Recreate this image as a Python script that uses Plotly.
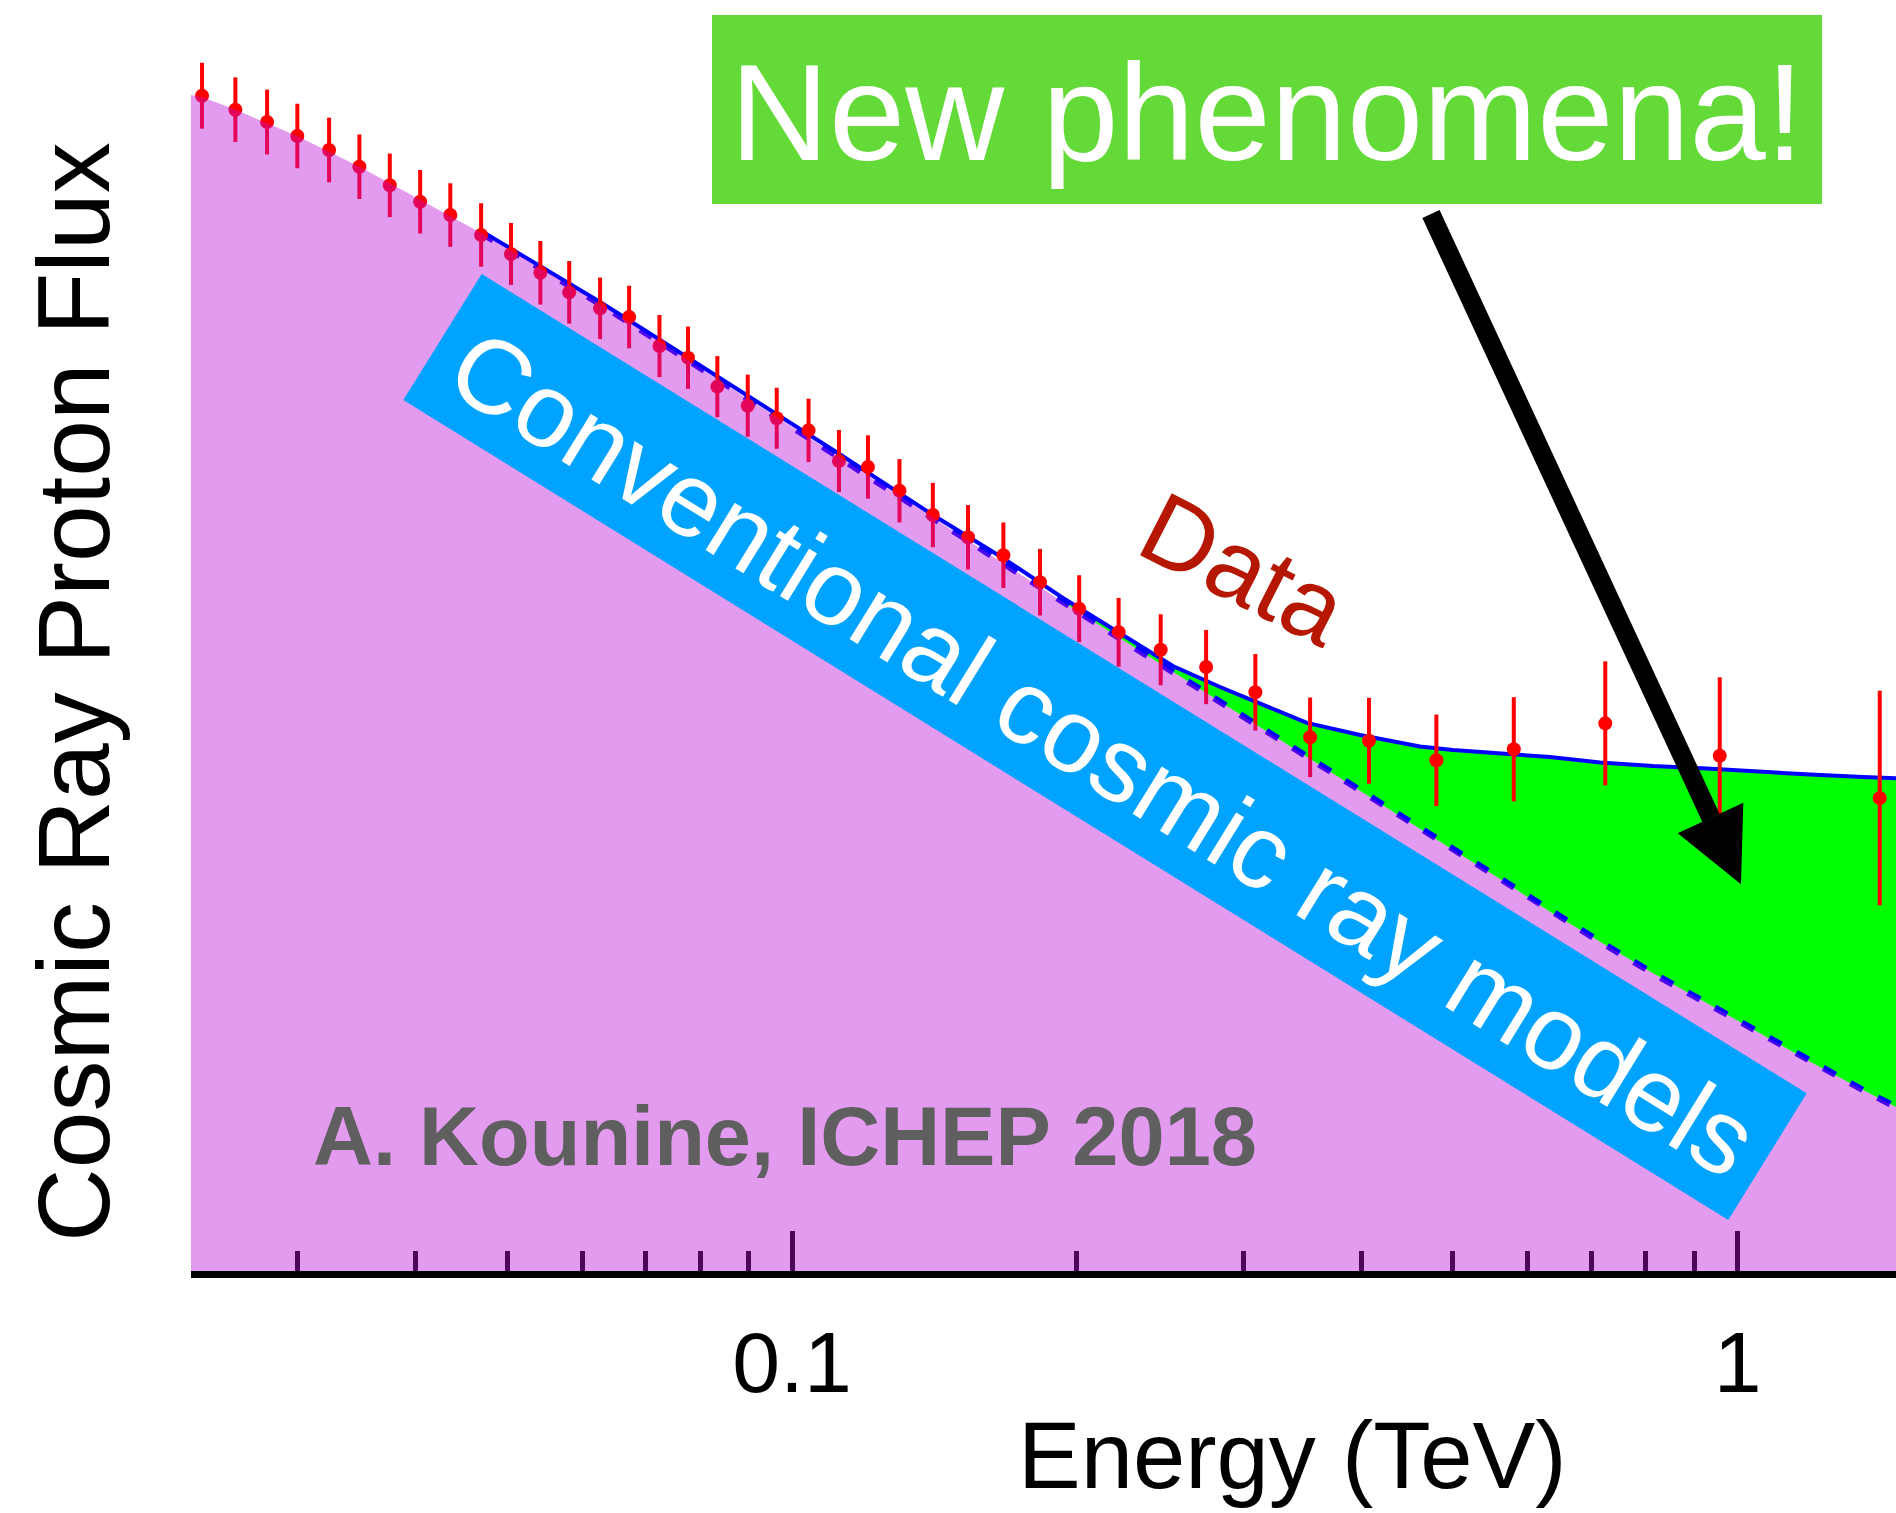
import math
import plotly.graph_objects as go

# ---------------- data ----------------
energy_tev = [0.02377, 0.02578, 0.02785, 0.02998, 0.03239, 0.03487, 0.03755, 0.04043, 0.04351, 0.04690,
              0.05044, 0.05418, 0.05812, 0.06266, 0.06725, 0.07241, 0.07762, 0.08337, 0.08977, 0.09634,
              0.1041, 0.1121, 0.1203, 0.1299, 0.1409, 0.1535, 0.1673, 0.1829, 0.2012, 0.2215,
              0.2454, 0.2741, 0.3090, 0.3531, 0.4075, 0.4802, 0.5798, 0.7245, 0.9574, 1.4135]
flux = [92.47, 91.37, 90.40, 89.30, 88.20, 86.88, 85.42, 84.13, 83.08, 81.51,
        80.02, 78.54, 77.00, 75.74, 75.06, 72.78, 71.86, 69.58, 68.08, 67.09,
        66.14, 63.73, 63.26, 61.39, 59.48, 57.73, 56.31, 54.19, 52.11, 50.25,
        48.88, 47.52, 45.53, 41.99, 41.72, 40.18, 41.05, 43.09, 40.54, 37.21]
flux_err = [2.59, 2.54, 2.55, 2.54, 2.54, 2.54, 2.50, 2.50, 2.50, 2.50,
            2.44, 2.50, 2.46, 2.42, 2.46, 2.44, 2.45, 2.40, 2.44, 2.40,
            2.49, 2.44, 2.49, 2.49, 2.53, 2.54, 2.58, 2.62, 2.63, 2.71,
            2.79, 2.92, 3.01, 3.13, 3.38, 3.60, 4.10, 4.88, 6.18, 8.44]

# conventional model curve
model_energy = [0.02314, 0.02377, 0.02576, 0.02996, 0.03484, 0.04043, 0.04690, 0.05413, 0.06266, 0.07252,
                0.08984, 0.1118, 0.1409, 0.1671, 0.1934, 0.2223, 0.2528, 0.2836, 0.3126, 0.3504,
                0.3988, 0.4613, 0.5000, 0.5608, 0.6332, 0.7152, 0.8139, 0.9281, 1.0483, 1.1929,
                1.3570, 1.4706]
model_flux = [92.53, 92.37, 91.38, 89.30, 86.90, 84.26, 81.67, 78.91, 76.08, 73.09,
              68.61, 64.12, 59.24, 55.70, 52.64, 49.76, 47.13, 44.78, 42.79, 40.44,
              37.79, 34.79, 33.12, 30.84, 28.27, 25.91, 23.42, 21.06, 18.83, 16.47,
              14.24, 12.90]

# fit to the data (starts at the 7th model node)
fit_energy = [0.04690, 0.05413, 0.06266, 0.07252, 0.08984, 0.1118, 0.1409, 0.1671, 0.1934, 0.2223,
              0.2528, 0.2836, 0.3126, 0.3504, 0.3988, 0.4613, 0.5000, 0.5608, 0.6332, 0.7152,
              0.8139, 0.9281, 1.0483, 1.1929, 1.3570, 1.4706]
fit_flux = [81.83, 79.07, 76.24, 73.25, 68.84, 64.36, 59.48, 56.10, 52.95, 50.20,
            47.60, 45.95, 44.61, 43.12, 42.17, 41.27, 40.99, 40.72, 40.44, 40.01,
            39.73, 39.54, 39.30, 39.06, 38.87, 38.76]

x_tick_vals = [0.1, 1]
x_tick_text = ["0.1", "1"]
x_minor_vals = [0.03, 0.04, 0.05, 0.06, 0.07, 0.08, 0.09, 0.2, 0.3, 0.4, 0.5, 0.6, 0.7, 0.8, 0.9]
x_range_tev = [0.02314, 1.4706]

# ---------------- layout geometry ----------------
W, H = 1896, 1513
ML, MR, MT, MB = 191, 0, 0, 242
PW = W - ML - MR
PH = H - MT - MB


def px(X):
    return (X - ML) / PW


def py(Y):
    return (H - MB - Y) / PH


FONT = "Liberation Sans, Arial, Helvetica, sans-serif"
PINK = "rgba(188,12,217,0.41)"

fig = go.Figure()

# green excess region (model -> fit), from the 15th model node
fig.add_trace(go.Scatter(x=model_energy[14:], y=model_flux[14:], mode="lines",
                         line=dict(width=0, color="rgba(0,0,0,0)"), hoverinfo="skip"))
fig.add_trace(go.Scatter(x=fit_energy[8:], y=fit_flux[8:], mode="lines", fill="tonexty",
                         fillcolor="#00FF00", line=dict(width=0, color="rgba(0,0,0,0)"),
                         hoverinfo="skip"))
# fit line
fig.add_trace(go.Scatter(x=fit_energy, y=fit_flux, mode="lines",
                         line=dict(color="#0000FF", width=4)))
# model dashed line
fig.add_trace(go.Scatter(x=model_energy[6:], y=model_flux[6:], mode="lines",
                         line=dict(color="#0000FF", width=6.5, dash="14px,17px")))
# data points
fig.add_trace(go.Scatter(x=energy_tev, y=flux, mode="markers",
                         marker=dict(color="#FF0000", size=14, line=dict(width=0)),
                         error_y=dict(type="data", array=flux_err, color="#FF0000",
                                      thickness=4, width=0)))
# conventional model area (semi-transparent, on top)
fig.add_trace(go.Scatter(x=model_energy, y=model_flux, mode="lines", fill="tozeroy",
                         fillcolor=PINK, line=dict(width=0, color="rgba(0,0,0,0)"),
                         hoverinfo="skip"))

fig.update_xaxes(type="log", range=[math.log10(x_range_tev[0]), math.log10(x_range_tev[1])],
                 showgrid=False, zeroline=False, showline=True, linecolor="black", linewidth=7,
                 ticks="inside", ticklen=40, tickwidth=5, tickcolor="black",
                 tickmode="array", tickvals=x_tick_vals, ticktext=x_tick_text,
                 tickfont=dict(family=FONT, size=86, color="black"),
                 ticklabelstandoff=11,
                 minor=dict(ticks="inside", ticklen=20, tickwidth=5, tickcolor="black",
                            tickmode="array", tickvals=x_minor_vals, showgrid=False),
                 layer="below traces")
fig.update_yaxes(range=[0, 100], visible=False, showgrid=False, zeroline=False)

shapes = []
# green label box
shapes.append(dict(type="rect", xref="paper", yref="paper",
                   x0=px(712), x1=px(1822), y0=py(204), y1=py(15),
                   fillcolor="#64DA38", line=dict(width=0), layer="above"))
# blue rotated band
band = [(481.7, 274), (1806.7, 1093.3), (1728.3, 1220), (403.3, 400)]
path = "M " + " L ".join(f"{px(a):.5f},{py(b):.5f}" for a, b in band) + " Z"
shapes.append(dict(type="path", xref="paper", yref="paper", path=path,
                   fillcolor="#00A3FF", line=dict(width=0), layer="above"))
# arrow shaft
shapes.append(dict(type="line", xref="paper", yref="paper",
                   x0=px(1431), y0=py(214), x1=px(1711), y1=py(818),
                   line=dict(color="black", width=19), layer="above"))
head = [(1677.7, 833.3), (1743.3, 802.7), (1741, 884.3)]
hpath = "M " + " L ".join(f"{px(a):.5f},{py(b):.5f}" for a, b in head) + " Z"
shapes.append(dict(type="path", xref="paper", yref="paper", path=hpath,
                   fillcolor="black", line=dict(width=0), layer="above"))

annotations = [
    dict(text="New phenomena!", x=px(1267), y=py(112), font=dict(family=FONT, size=137, color="white")),
    dict(text="Conventional cosmic ray models", x=px(1103), y=py(752), textangle=31.7,
         font=dict(family=FONT, size=105, color="white")),
    dict(text="Data", x=px(1244), y=py(569), textangle=27,
         font=dict(family=FONT, size=101, color="#B51700")),
    dict(text="A. Kounine, ICHEP 2018", x=px(785), y=py(1136),
         font=dict(family=FONT, size=83, color="#5F5F5F", weight="bold")),
    dict(text="Energy (TeV)", x=px(1292), y=py(1455), font=dict(family=FONT, size=94, color="black")),
    dict(text="Cosmic Ray Proton Flux", x=px(74), y=py(692), textangle=-90,
         font=dict(family=FONT, size=102, color="black")),
]
for a in annotations:
    a.update(xref="paper", yref="paper", showarrow=False, xanchor="center", yanchor="middle")

fig.update_layout(width=W, height=H, margin=dict(l=ML, r=MR, t=MT, b=MB, pad=0),
                  paper_bgcolor="white", plot_bgcolor="white", showlegend=False,
                  shapes=shapes, annotations=annotations)

fig.write_html("out.html")
